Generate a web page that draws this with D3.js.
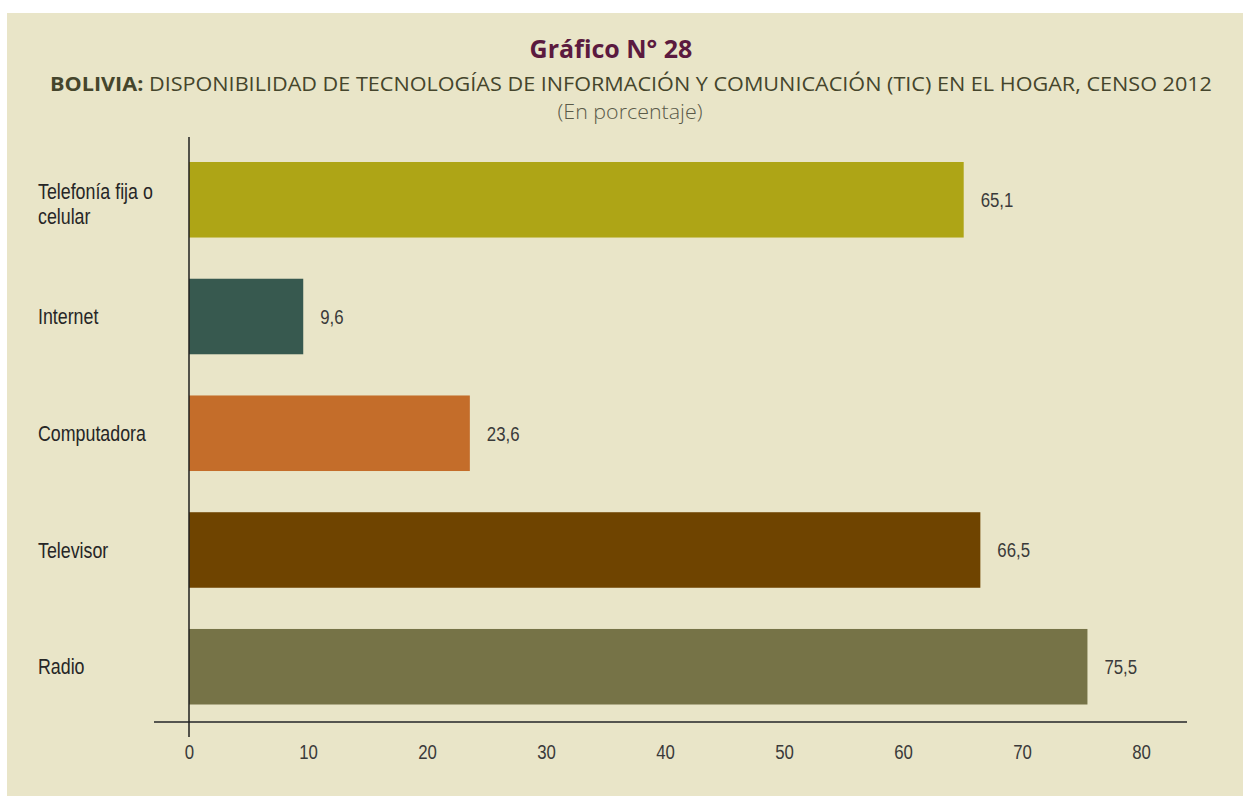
<!DOCTYPE html>
<html>
<head>
<meta charset="utf-8">
<script src="https://cdn.jsdelivr.net/npm/d3@7"></script>
<style>
  body { margin: 0; background: #ffffff; }
  svg { display: block; }
</style>
</head>
<body>
<svg id="chart"></svg>
<script>
// data
const categories = ["Telefonía fija o\ncelular", "Internet", "Computadora", "Televisor", "Radio"];
const values = [65.1, 9.6, 23.6, 66.5, 75.5];
const barColors = ["#aea516", "#37594f", "#c46d2a", "#6f4400", "#767347"];
const xTicks = [0, 10, 20, 30, 40, 50, 60, 70, 80];

let width = 1243, height = 796;
let labelFont = "'Liberation Sans', Arial, sans-serif";
let titleFont = "'Open Sans', 'Noto Sans', sans-serif";
let squeeze = 0.8; // the original uses a condensed face

let svg = d3.select('#chart')
    .attr('width', width)
    .attr('height', height);

// beige panel
svg.append('rect')
    .attr('x', 7).attr('y', 13)
    .attr('width', width - 7).attr('height', height - 13)
    .attr('fill', '#e9e5c8');

// titles
svg.append('text')
    .attr('x', 611).attr('y', 58)
    .attr('text-anchor', 'middle')
    .style('font-family', titleFont)
    .style('font-weight', 'bold')
    .style('font-size', '25px')
    .attr('fill', '#5b1a3f')
    .text('Gráfico N° 28');

let sub = svg.append('text')
    .attr('x', 631).attr('y', 91)
    .attr('text-anchor', 'middle')
    .style('font-family', titleFont)
    .style('font-size', '19.5px')
    .attr('fill', '#45452c')
    .attr('textLength', 1162)
    .attr('lengthAdjust', 'spacingAndGlyphs');
sub.append('tspan').style('font-weight', 'bold').text('BOLIVIA:');
sub.append('tspan').text(' DISPONIBILIDAD DE TECNOLOGÍAS DE INFORMACIÓN Y COMUNICACIÓN (TIC) EN EL HOGAR, CENSO 2012');

svg.append('text')
    .attr('x', 630).attr('y', 119)
    .attr('text-anchor', 'middle')
    .style('font-family', titleFont)
    .style('font-size', '21px')
    .style('font-weight', 300)
    .attr('fill', '#5a5a48')
    .attr('textLength', 145)
    .attr('lengthAdjust', 'spacingAndGlyphs')
    .text('(En porcentaje)');

// scales
let xScale = d3.scaleLinear()
    .domain([0, 80])
    .range([189, 1141]);

let yScale = d3.scaleBand()
    .domain(categories)
    .range([162, 704.5])
    .paddingInner(0.353)
    .paddingOuter(0);

// bars
svg.selectAll('rect.bar')
    .data(values)
    .enter()
    .append('rect')
    .attr('class', 'bar')
    .attr('x', xScale(0))
    .attr('y', (d, i) => yScale(categories[i]))
    .attr('width', d => xScale(d) - xScale(0))
    .attr('height', yScale.bandwidth())
    .attr('fill', (d, i) => barColors[i]);

// value labels
svg.selectAll('text.value')
    .data(values)
    .enter()
    .append('text')
    .attr('class', 'value')
    .attr('transform', (d, i) => `translate(${xScale(d) + 17}, ${yScale(categories[i]) + yScale.bandwidth() / 2}) scale(${squeeze}, 1)`)
    .attr('dy', '0.35em')
    .style('font-family', labelFont)
    .style('font-size', '21px')
    .attr('fill', '#3a3a3a')
    .text(d => d3.format('.1f')(d).replace('.', ','));

// category labels, left aligned
let catLabels = svg.selectAll('text.cat')
    .data(categories)
    .enter()
    .append('text')
    .attr('class', 'cat')
    .attr('transform', d => `translate(38, ${yScale(d) + yScale.bandwidth() / 2}) scale(0.81, 1)`)
    .style('font-family', labelFont)
    .style('font-size', '22px')
    .attr('fill', '#262626');

catLabels.each(function(d) {
    let lines = d.split('\n');
    let t = d3.select(this);
    lines.forEach(function(line, j) {
        t.append('tspan')
            .attr('x', 0)
            .attr('dy', j === 0 ? (lines.length === 1 ? '0.35em' : '-0.05em') : '1.15em')
            .text(line);
    });
});

// x axis
let xAxis = svg.append('g')
    .attr('transform', 'translate(0, 722)')
    .call(d3.axisBottom(xScale).tickValues(xTicks).tickSize(0).tickPadding(22));
xAxis.select('.domain').remove();
xAxis.selectAll('text')
    .attr('transform', `scale(${squeeze}, 1)`)
    .style('font-family', labelFont)
    .style('font-size', '21px')
    .attr('fill', '#3a3a3a');

svg.append('line')
    .attr('x1', 154).attr('x2', 1187)
    .attr('y1', 722).attr('y2', 722)
    .attr('stroke', '#555550')
    .attr('stroke-width', 2);

// vertical axis line
svg.append('line')
    .attr('x1', xScale(0)).attr('x2', xScale(0))
    .attr('y1', 137).attr('y2', 737)
    .attr('stroke', '#1f1f1f')
    .attr('stroke-width', 1.5);
</script>
</body>
</html>
